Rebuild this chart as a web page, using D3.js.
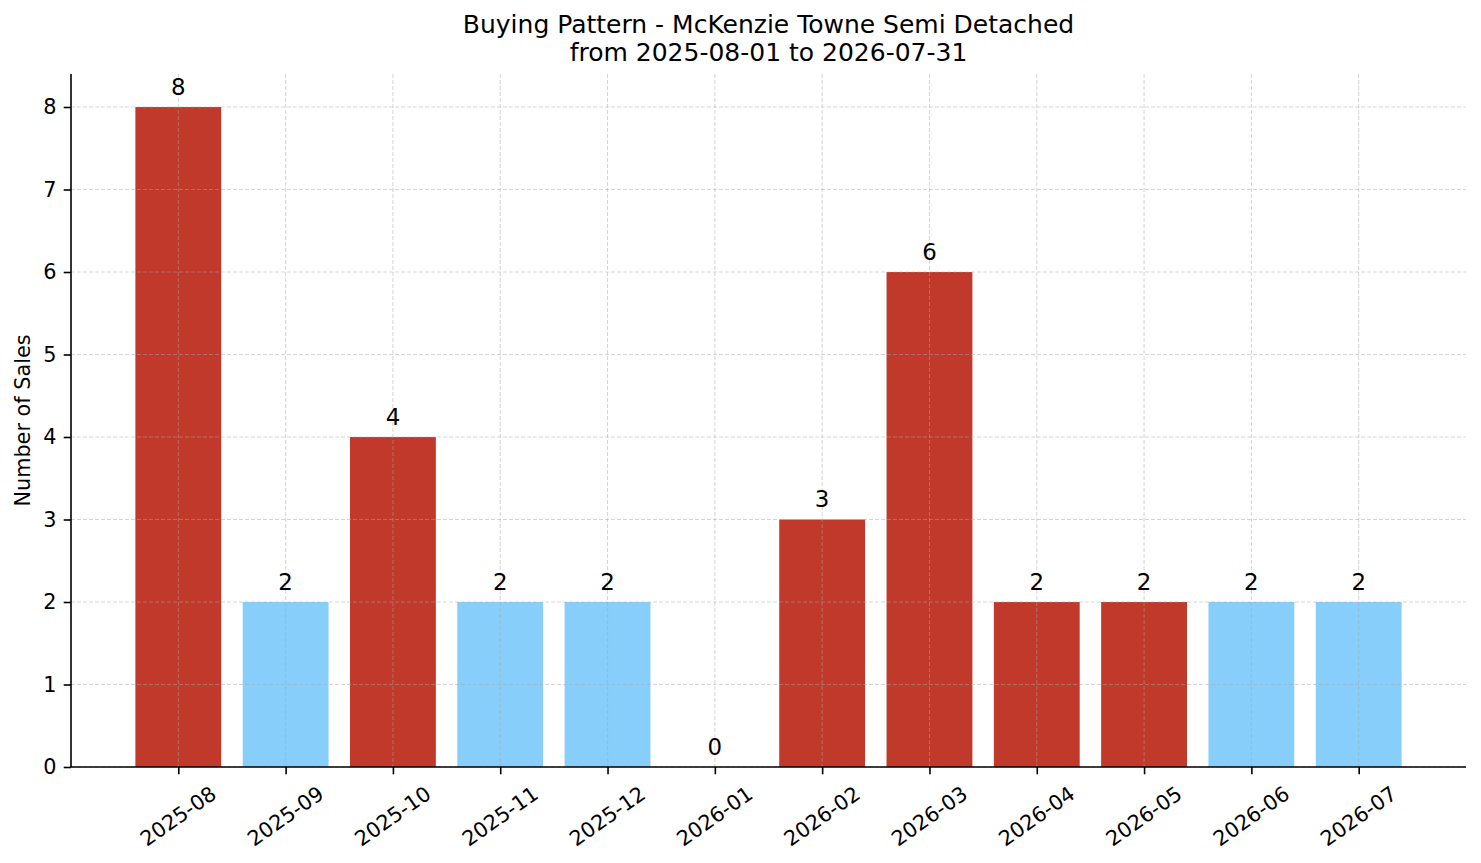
<!DOCTYPE html>
<html>
<head>
<meta charset="utf-8">
<script src="https://cdn.jsdelivr.net/npm/d3@7"></script>
<style>
  body { margin: 0; background: #fff; }
  svg text { font-family: "DejaVu Sans", sans-serif; fill: #000; }
</style>
</head>
<body>
<svg id="chart" width="1481" height="863"></svg>
<script>
// Data
const months = ['2025-08', '2025-09', '2025-10', '2025-11', '2025-12', '2026-01',
  '2026-02', '2026-03', '2026-04', '2026-05', '2026-06', '2026-07'];
const sales = [8, 2, 4, 2, 2, 0, 3, 6, 2, 2, 2, 2];
// true = red bar, false = light blue bar
const highlighted = [true, false, true, false, false, false, true, true, true, true, false, false];
const yTicks = [0, 1, 2, 3, 4, 5, 6, 7, 8];

const titleLines = ['Buying Pattern - McKenzie Towne Semi Detached', 'from 2025-08-01 to 2026-07-31'];

// Layout
const margin = {left: 71, right: 15, top: 74, bottom: 96};
const width = 1481, height = 863;
const fontSize = 20.8;
const valueFontSize = 22.9;
const red = '#c0392b', blue = '#87cefa';

let svg = d3.select('#chart');

let x = d3.scalePoint()
  .domain(months)
  .range([margin.left, width - margin.right])
  .padding(1);

let y = d3.scaleLinear()
  .domain([0, 8.4])
  .range([height - margin.bottom, margin.top]);

let barW = x.step() * 0.8;

// Bars
svg.append('g')
  .selectAll('rect')
  .data(months)
  .join('rect')
  .attr('x', d => x(d) - barW / 2)
  .attr('y', (d, i) => y(sales[i]))
  .attr('width', barW)
  .attr('height', (d, i) => y(0) - y(sales[i]))
  .style('fill', (d, i) => highlighted[i] ? red : blue);

// Grid (drawn over the bars, like the original)
let grid = svg.append('g').attr('class', 'grid');
grid.selectAll('line.h')
  .data(yTicks)
  .join('line')
  .attr('class', 'h')
  .attr('x1', margin.left).attr('x2', width - margin.right)
  .attr('y1', d => y(d)).attr('y2', d => y(d));
grid.selectAll('line.v')
  .data(months)
  .join('line')
  .attr('class', 'v')
  .attr('x1', d => x(d)).attr('x2', d => x(d))
  .attr('y1', margin.top).attr('y2', height - margin.bottom);
grid.selectAll('line')
  .style('stroke', '#a8a8a8')
  .style('stroke-opacity', 0.55)
  .style('stroke-width', 0.9)
  .style('stroke-dasharray', '4,2');

// Value labels
svg.append('g')
  .selectAll('text')
  .data(months)
  .join('text')
  .attr('x', d => x(d))
  .attr('y', (d, i) => y(sales[i] + 0.1) - 4)
  .attr('text-anchor', 'middle')
  .style('font-size', `${valueFontSize}px`)
  .text((d, i) => sales[i]);

// Axes
let yAxis = d3.axisLeft(y)
  .tickValues(yTicks)
  .tickFormat(d3.format('d'))
  .tickSize(7.3)
  .tickPadding(7.3);

let yG = svg.append('g')
  .attr('transform', `translate(${margin.left}, 0)`)
  .call(yAxis);
yG.select('.domain').attr('d', `M0,${y(0)}V${margin.top}`);

let xAxis = d3.axisBottom(x)
  .tickSize(7.3)
  .tickFormat('');

let xG = svg.append('g')
  .attr('transform', `translate(0, ${y(0)})`)
  .call(xAxis);
xG.select('.domain').attr('d', `M${margin.left},0H${width - margin.right}`);

svg.selectAll('.domain, .tick line')
  .style('stroke', '#000')
  .style('stroke-width', 1.6);
yG.selectAll('text')
  .style('font-size', `${fontSize}px`)
  .style('font-family', '"DejaVu Sans", sans-serif');

// Rotated month labels (centred under each tick, top of rotated box below tick)
const angle = 35;
const rad = angle * Math.PI / 180;
let labelTop = y(0) + 7.3 + 7.3;
let xLabels = svg.append('g');
months.forEach(m => {
  let t = xLabels.append('text')
    .attr('text-anchor', 'middle')
    .attr('dominant-baseline', 'central')
    .style('font-size', `${fontSize}px`)
    .text(m);
  let bb = t.node().getBBox();
  let boxH = bb.width * Math.sin(rad) + bb.height * Math.cos(rad);
  let cx = x(m), cy = labelTop + boxH / 2;
  t.attr('transform', `translate(${cx}, ${cy}) rotate(${-angle})`);
});

// Y label
svg.append('text')
  .attr('transform', `translate(30, ${(margin.top + y(0)) / 2}) rotate(-90)`)
  .attr('text-anchor', 'middle')
  .style('font-size', `${fontSize}px`)
  .text('Number of Sales');

// Title
let cx = (margin.left + width - margin.right) / 2;
svg.append('g')
  .selectAll('text')
  .data(titleLines)
  .join('text')
  .attr('x', cx)
  .attr('y', (d, i) => 33 + i * 28)
  .attr('text-anchor', 'middle')
  .style('font-size', '25px')
  .text(d => d);
</script>
</body>
</html>
